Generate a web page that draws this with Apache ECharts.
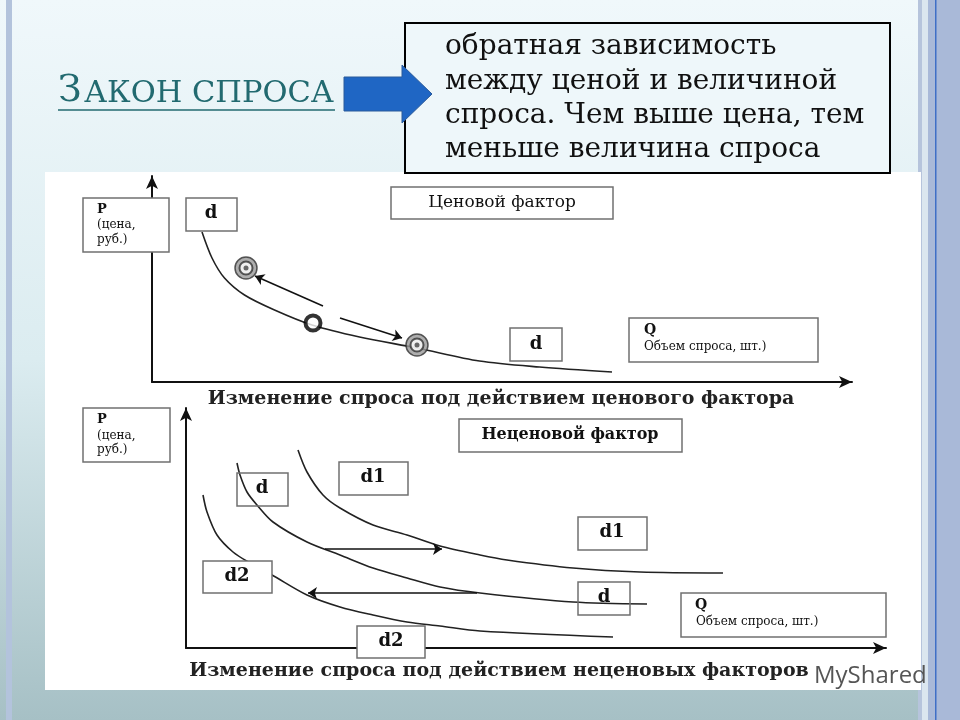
<!DOCTYPE html>
<html>
<head>
<meta charset="utf-8">
<script src="https://cdn.jsdelivr.net/npm/echarts@6/dist/echarts.min.js"></script>
<style>
  html, body { margin: 0; padding: 0; }
  #main { width: 960px; height: 720px; }
</style>
</head>
<body>
<div id="main"></div>
<script>
// верхний график: ценовой фактор (Q: 0..140, P: 0..103)
const demandCurve = [[10,75],[12,62],[14.5,52],[18.5,43.5],[24.5,36],[32,28.5],[41.5,22.5],[53,17],[65.5,10.5],[77.5,7.5],[92,5]];
const targetPoints = [[18.8,57],[53,18.5]];
const startPoint = [[32.2,29.5]];
const moveArrows = [[[34.2,38],[20.6,53]], [[37.6,32],[50,22]]];

// нижний график: неценовые факторы (Q: 0..140, P: 0..120)
const d1Curve = [[22.4,99],[24.2,88],[27.4,76.5],[30.8,70],[37.4,61.5],[44.2,56.5],[50.8,51],[58.8,46.5],[64.2,44],[77.4,40],[90.8,38],[107.4,37.5]];
const dCurve = [[10.2,92.5],[10.8,86.5],[12.2,78],[14.2,71.5],[17.4,63],[24.2,53],[30.8,46.5],[37.4,40],[44.2,35],[50.8,30.5],[58.8,27.5],[77.4,23],[92.2,22]];
const d2Curve = [[3.4,76.5],[4.2,68],[6.2,56.5],[9.4,48],[12.8,42.5],[17.2,36.5],[24.2,26.5],[30.8,20.5],[37.4,16.5],[44.2,13],[50.8,11],[58.8,8.5],[85.4,5.5]];
const shiftArrows = [[[27.8,49.5],[51.2,49.5]], [[58.2,27.5],[24.4,27.5]]];

const serif = '"DejaVu Serif", "Liberation Serif", serif';

function box(x, y, w, h, opaque) {
  return {
    type: 'rect', silent: true, z: opaque ? 50 : 40,
    shape: { x: x, y: y, width: w, height: h },
    style: { fill: opaque ? '#fff' : 'none', stroke: '#707070', lineWidth: 1.5 }
  };
}
function label(x, y, text, font, color, align) {
  return {
    type: 'text', silent: true, z: 60, x: x, y: y,
    style: { text: text, font: font, fill: color || '#111', align: align || 'left', verticalAlign: 'middle' }
  };
}

const chart = echarts.init(document.getElementById('main'));

const axisOff = { show: false };
function axis(grid, max) {
  return {
    type: 'value', gridIndex: grid, min: 0, max: max,
    axisLine: { show: true, onZero: false, symbol: ['none', 'arrow'], symbolSize: [9, 13],
      lineStyle: { color: '#111', width: 2 } },
    axisTick: axisOff, axisLabel: axisOff, splitLine: axisOff
  };
}
function curve(data, idx) {
  return {
    type: 'line', xAxisIndex: idx, yAxisIndex: idx, data: data, smooth: 0.3,
    symbol: 'none', lineStyle: { color: '#222', width: 1.6 }, z: 3
  };
}
function arrows(list, idx) {
  return {
    type: 'lines', coordinateSystem: 'cartesian2d', xAxisIndex: idx, yAxisIndex: idx,
    data: list.map(c => ({ coords: c })),
    symbol: ['none', 'arrow'], symbolSize: 9,
    lineStyle: { color: '#111', width: 1.5, opacity: 1 }, z: 4
  };
}

const option = {
  animation: false,
  grid: [
    { left: 152, top: 176, width: 700, height: 206 },
    { left: 186, top: 408, width: 700, height: 240 }
  ],
  xAxis: [axis(0, 140), axis(1, 140)],
  yAxis: [axis(0, 103), axis(1, 120)],
  series: [
    curve(demandCurve, 0),
    { type: 'scatter', xAxisIndex: 0, yAxisIndex: 0, data: targetPoints, symbolSize: 22, z: 5,
      itemStyle: { color: '#9a9a9a', borderColor: '#333', borderWidth: 1.5 } },
    { type: 'scatter', xAxisIndex: 0, yAxisIndex: 0, data: targetPoints, symbolSize: 13, z: 6,
      itemStyle: { color: '#fff', borderColor: '#333', borderWidth: 2 } },
    { type: 'scatter', xAxisIndex: 0, yAxisIndex: 0, data: targetPoints, symbolSize: 5, z: 7,
      itemStyle: { color: '#444' } },
    { type: 'scatter', xAxisIndex: 0, yAxisIndex: 0, data: startPoint, symbolSize: 15, z: 6,
      itemStyle: { color: '#fff', borderColor: '#000', borderWidth: 4 } },
    arrows(moveArrows, 0),
    curve(d1Curve, 1),
    curve(dCurve, 1),
    curve(d2Curve, 1),
    arrows(shiftArrows, 1)
  ],
  graphic: [
    // фон слайда
    { type: 'rect', silent: true, z: -20, shape: { x: 0, y: 0, width: 960, height: 720 },
      style: { fill: new echarts.graphic.LinearGradient(0, 0, 0, 1, [
        { offset: 0, color: '#f0f8fb' }, { offset: 0.5, color: '#dbecf0' }, { offset: 1, color: '#a6c0c5' }]) } },
    { type: 'rect', silent: true, z: -19, shape: { x: 6, y: 0, width: 6, height: 720 }, style: { fill: '#b3c3dc' } },
    { type: 'rect', silent: true, z: -19, shape: { x: 918, y: 0, width: 4, height: 720 }, style: { fill: '#b6c4dc' } },
    { type: 'rect', silent: true, z: -19, shape: { x: 922, y: 0, width: 6, height: 720 }, style: { fill: '#dbe6ef' } },
    { type: 'rect', silent: true, z: -19, shape: { x: 928, y: 0, width: 32, height: 720 }, style: { fill: '#a9b9d8' } },
    { type: 'rect', silent: true, z: -18, shape: { x: 935, y: 0, width: 1.5, height: 720 }, style: { fill: '#3f6fc6' } },
    // белая панель с рисунком
    { type: 'rect', silent: true, z: -15, shape: { x: 45, y: 172, width: 876, height: 518 }, style: { fill: '#fff' } },

    // заголовок
    label(58, 91.5, 'З', '38px ' + serif, '#226a70'),
    label(84, 94, 'АКОН СПРОСА', '30.5px ' + serif, '#226a70'),
    { type: 'line', silent: true, z: 60, shape: { x1: 58, y1: 110, x2: 335, y2: 110 },
      style: { stroke: '#226a70', lineWidth: 1.5 } },
    // синяя стрелка
    { type: 'polygon', silent: true, z: 60,
      shape: { points: [[344, 77], [402, 77], [402, 65], [432, 94], [402, 123], [402, 111], [344, 111]] },
      style: { fill: '#1f66c4', stroke: '#2a5a9a', lineWidth: 1 } },
    // определение
    { type: 'rect', silent: true, z: 55, shape: { x: 405, y: 23, width: 485, height: 150 },
      style: { fill: '#eef7fa', stroke: '#000', lineWidth: 2 } },
    label(445, 47, 'обратная зависимость', '28px ' + serif),
    label(445, 82, 'между ценой и величиной', '28px ' + serif),
    label(445, 116, 'спроса. Чем выше цена, тем', '28px ' + serif),
    label(445, 150, 'меньше величина спроса', '28px ' + serif),

    // верхний график
    box(83, 198, 86, 54, true),
    label(97, 210, 'Р', 'bold 13px ' + serif),
    label(97, 225, '(цена,', '12px ' + serif),
    label(97, 240, 'руб.)', '12px ' + serif),
    box(186, 198, 51, 33, false),
    label(211, 213, 'd', 'bold 18px ' + serif, '#111', 'center'),
    box(391, 187, 222, 32, true),
    label(502, 203, 'Ценовой фактор', '17px ' + serif, '#111', 'center'),
    box(510, 328, 52, 33, false),
    label(536, 344, 'd', 'bold 18px ' + serif, '#111', 'center'),
    box(629, 318, 189, 44, true),
    label(644, 330, 'Q', 'bold 14px ' + serif),
    label(644, 347, 'Объем спроса, шт.)', '12px ' + serif),
    label(501, 399, 'Изменение спроса под действием ценового фактора', 'bold 19px ' + serif, '#222', 'center'),

    // нижний график
    box(83, 408, 87, 54, true),
    label(97, 420, 'Р', 'bold 13px ' + serif),
    label(97, 436, '(цена,', '12px ' + serif),
    label(97, 450, 'руб.)', '12px ' + serif),
    box(459, 419, 223, 33, true),
    label(570, 435, 'Неценовой фактор', 'bold 16px ' + serif, '#111', 'center'),
    box(237, 473, 51, 33, false),
    label(262, 488, 'd', 'bold 18px ' + serif, '#111', 'center'),
    box(339, 462, 69, 33, true),
    label(373, 477, 'd1', 'bold 18px ' + serif, '#111', 'center'),
    box(578, 517, 69, 33, true),
    label(612, 532, 'd1', 'bold 18px ' + serif, '#111', 'center'),
    box(203, 561, 69, 32, true),
    label(237, 576, 'd2', 'bold 18px ' + serif, '#111', 'center'),
    box(578, 582, 52, 33, false),
    label(604, 597, 'd', 'bold 18px ' + serif, '#111', 'center'),
    box(357, 626, 68, 32, true),
    label(391, 641, 'd2', 'bold 18px ' + serif, '#111', 'center'),
    box(681, 593, 205, 44, true),
    label(695, 605, 'Q', 'bold 14px ' + serif),
    label(696, 622, 'Объем спроса, шт.)', '12px ' + serif),
    label(499, 671, 'Изменение спроса под действием неценовых факторов', 'bold 19px ' + serif, '#222', 'center'),

    // водяной знак
    label(814, 676, 'MyShared', '24px "Open Sans", sans-serif', '#555')
  ]
};

chart.setOption(option);
</script>
</body>
</html>
